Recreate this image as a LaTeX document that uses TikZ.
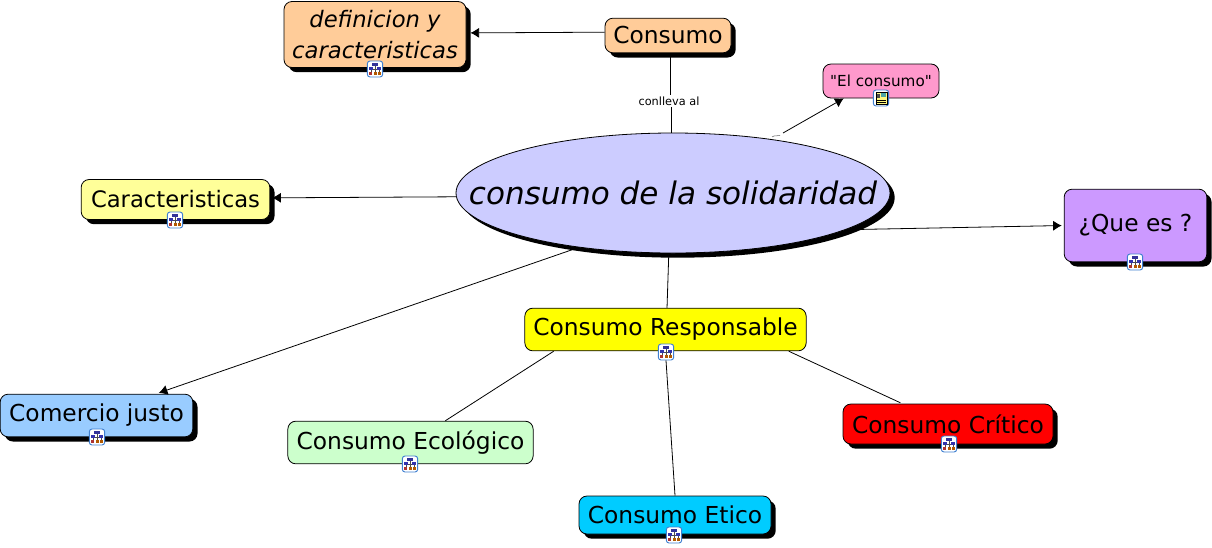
\documentclass[tikz,border=0pt]{standalone}
\usepackage{xcolor}
\usepackage{fontspec}
\setmainfont{DejaVu Sans}
\newfontfamily\straightfont{DejaVu Sans}
\usepackage{tikz}
\usetikzlibrary{arrows.meta}
\usetikzlibrary{shapes.geometric}
\usetikzlibrary{shadows}
\tikzset{>={Latex[length=6.5pt,width=7.5pt]}}
\definecolor{peach}{HTML}{FFCC99}
\definecolor{rosa}{HTML}{FF99CC}
\definecolor{lila}{HTML}{CCCCFF}
\definecolor{crema}{HTML}{FFFF99}
\definecolor{violeta}{HTML}{CC99FF}
\definecolor{cielo}{HTML}{99CCFF}
\definecolor{menta}{HTML}{CCFFCC}
\definecolor{turquesa}{HTML}{00CCFF}
\definecolor{amarillo}{HTML}{FFFF00}
\definecolor{rojo}{HTML}{FF0000}
\definecolor{iconblue}{HTML}{3F7FD0}
\tikzset{
  hard/.style = {drop shadow = {shadow xshift=3.5pt, shadow yshift=-3.5pt, opacity=1, fill=black}},
  concept/.style = {rectangle, draw=black, line width=.6pt, rounded corners=6pt, inner sep=0pt, align=center, font=\fontsize{17.5}{21}\selectfont},
  link/.style = {draw=black, line width=.6pt},
  iconbox/.style = {rectangle, draw=iconblue, fill=white, rounded corners=2pt, line width=.7pt, minimum width=11.5pt, minimum height=12pt, inner sep=0pt},
  treemark/.pic = {
    \draw [black!70, line width=.3pt] (0,-3) -- (0,4) (-4,0) -- (4,0) (-4,0) -- (-4,4) (4,0) -- (4,4);
    \fill [blue!50!black!80] (-3,-6) rectangle (3,-3);
    \fill [blue!60!black!80] (-6,-2) rectangle (-2,1);
    \fill [blue!60!black!80] (2,-2) rectangle (6,1);
    \fill [red!60!black!80] (-6,3) rectangle (-3,6);
    \fill [orange!70!black] (-1.5,3) rectangle (1.5,6);
    \fill [orange!70!black] (3,3) rectangle (6,6);
  },
  docmark/.pic = {
    \fill [yellow!50] (-5,-6) rectangle (6,6);
    \draw [black, line width=.3pt] (-5,-6) rectangle (6,6);
    \fill [black!70] (-4,-4) rectangle (-1,0);
    \fill [teal!70] (0,-5) rectangle (5,-1);
    \draw [black, line width=.4pt] (-4,2) -- (5,2) (-4,4) -- (5,4);
  }
}
\newcommand{\treeicon}[2]{\node [iconbox] (#1) at #2 {}; \pic at #2 {treemark};}
\begin{document}
\begin{tikzpicture}[x=.75pt, y=-.75pt]
\useasboundingbox (0,0) rectangle (1212,547);
% concepts
\node [concept, hard, fill=peach, minimum width=136.5pt, minimum height=49.5pt, font=\fontsize{17}{23}\itshape\selectfont] (definicion) at (375,34.5) {definicion y\\caracteristicas};
\node [concept, hard, fill=peach, minimum width=94.5pt, minimum height=26pt] (consumo) at (668,35.5) {Consumo};
\node [concept, fill=rosa, minimum width=87pt, minimum height=25.5pt, font=\straightfont\fontsize{11.4}{13}\selectfont] (elconsumo) at (881,81) {"El consumo"};
\node [ellipse, hard, draw=black, line width=.6pt, fill=lila, minimum width=325.5pt, minimum height=90pt, inner sep=0pt, font=\fontsize{23.3}{27}\itshape\selectfont] (solidaridad) at (673,193) {\makebox[0pt]{consumo de la solidaridad}};
\node [concept, hard, fill=crema, minimum width=141.5pt, minimum height=30pt, font=\fontsize{17}{21}\selectfont] (caracteristicas) at (175.5,199.5) {Caracteristicas};
\node [concept, hard, fill=violeta, minimum width=107pt, minimum height=54.5pt] (quees) at (1135.5,225.5) {¿Que es ?};
\node [concept, fill=amarillo, minimum width=211pt, minimum height=32pt] (responsable) at (665.5,329.5) {Consumo Responsable};
\node [concept, hard, fill=cielo, minimum width=144.5pt, minimum height=32pt] (comercio) at (96.5,415.5) {Comercio justo};
\node [concept, fill=menta, minimum width=184pt, minimum height=32pt] (ecologico) at (410.5,442.5) {Consumo Ecológico};
\node [concept, hard, fill=rojo, minimum width=157.5pt, minimum height=30pt] (critico) at (948,424) {Consumo Crítico};
\node [concept, hard, fill=turquesa, minimum width=144pt, minimum height=28.5pt] (etico) at (675,515) {Consumo Etico};
\node [font=\fontsize{8.5}{10}\selectfont, inner sep=1pt] (conlleva) at (669,101) {conlleva al};
% icons
\treeicon{icondefinicion}{(375,69)}
\treeicon{iconcaracteristicas}{(175,220)}
\treeicon{iconquees}{(1135,262)}
\treeicon{iconresponsable}{(666,352)}
\treeicon{iconcomercio}{(97,437)}
\treeicon{iconecologico}{(410,464)}
\treeicon{iconcritico}{(949,444)}
\treeicon{iconetico}{(674,535)}
\node [iconbox] (icondoc) at (881,98) {};
\pic at (881,98) {docmark};
% connectors
\coordinate (solup) at (671,133);
\coordinate (consumodown) at (670,55);
\coordinate (solgap) at (783,133);
\draw [link] (consumodown) -- (conlleva.north -| consumodown);
\draw [link] (conlleva.south -| solup) -- (solup);
\draw [link, ->, shorten >=3pt] (consumo.177.7) -- (definicion.1);
\draw [link, ->, shorten >=1.5pt] (solidaridad.181.3) -- (caracteristicas.1);
\draw [link, ->] (solgap) -- (elconsumo.-155);
\draw [link, black!60, line width=.4pt] (772,137) -- (774,136) -- (780,135.5);
\draw [link, ->, shorten >=1.5pt] (solidaridad.-12.8) -- (quees.west);
\draw [link, ->, shorten >=2pt] (solidaridad.-150) -- (comercio.20);
\draw [link, shorten <=1.5pt] (solidaridad.-94) -- (responsable.86);
\draw [link] (responsable.-169.85) -- (ecologico.32.5);
\draw [link] (iconresponsable.south) -- (etico.north);
\draw [link, shorten >=1.5pt] (responsable.-10.85) -- (critico.156);
\end{tikzpicture}
\end{document}
